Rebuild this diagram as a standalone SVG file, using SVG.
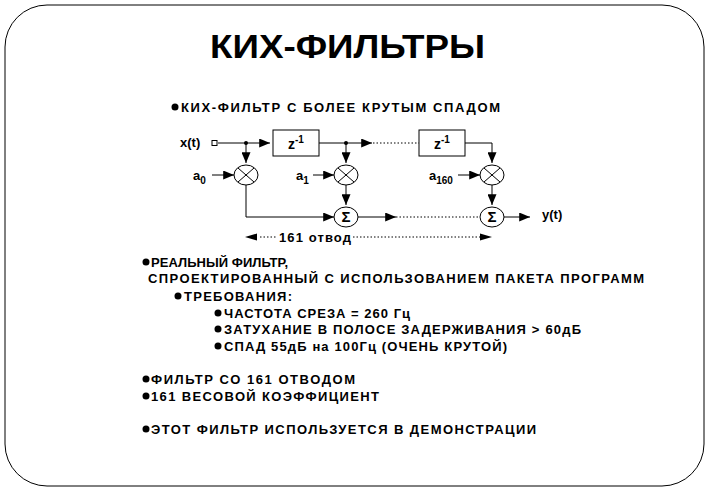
<svg xmlns="http://www.w3.org/2000/svg" width="710" height="491" viewBox="0 0 710 491">
<defs>
<style>
text{font-family:"Liberation Sans",Arial,sans-serif;font-weight:bold;fill:#000}
.t{font-size:13px}
.l{stroke:#000;stroke-width:1;fill:none}
.d{stroke:#000;stroke-width:1;fill:none;stroke-dasharray:1.5 2}
.n{fill:#fff;stroke:#000;stroke-width:1}
</style>
<marker id="a" viewBox="0 0 12 10" refX="12" refY="5" markerWidth="12" markerHeight="9" markerUnits="userSpaceOnUse" orient="auto"><path d="M0,0L12,5L0,10z"/></marker>
</defs>
<rect x="0" y="0" width="710" height="491" fill="#fff"/>
<rect x="5" y="5" width="699" height="481" rx="42" fill="#fff" stroke="#000" stroke-width="1"/>
<text x="210" y="58" font-size="34" textLength="275" lengthAdjust="spacingAndGlyphs">КИХ-ФИЛЬТРЫ</text>
<g id="connectors">
<path class="l" d="M218,143H270" marker-end="url(#a)"/>
<path class="l" d="M319,143H372" marker-end="url(#a)"/>
<path class="d" d="M373,143H419"/>
<path class="l" d="M465,143H492V163" marker-end="url(#a)"/>
<path class="l" d="M246,143V163" marker-end="url(#a)"/>
<path class="l" d="M346,143V163" marker-end="url(#a)"/>
<path class="l" d="M212,175H234" marker-end="url(#a)"/>
<path class="l" d="M313,175H334" marker-end="url(#a)"/>
<path class="l" d="M458,175H480" marker-end="url(#a)"/>
<path class="l" d="M246,185V217H334" marker-end="url(#a)"/>
<path class="l" d="M346,185V205" marker-end="url(#a)"/>
<path class="l" d="M492,185V205" marker-end="url(#a)"/>
<path class="l" d="M358,217H396" marker-end="url(#a)"/>
<path class="d" d="M396,217H480"/>
<path class="l" d="M504,217H530" marker-end="url(#a)"/>
<path class="d" d="M260,237H276M353,237H480"/>
<path d="M245,237l12,-3.5v7z"/>
<path d="M492,237l-12,-3.5v7z"/>
<circle cx="246" cy="143" r="2"/>
<circle cx="346" cy="143" r="2"/>
</g>
<g id="x"><rect x="212" y="140.5" width="5" height="5" class="n"/><text x="180" y="147" class="t">x(t)</text></g>
<g id="z1"><rect x="273" y="130" width="46" height="26" class="n"/><text x="288" y="149" font-size="14">z<tspan font-size="10" dy="-6">-1</tspan></text></g>
<g id="z2"><rect x="419" y="130" width="46" height="26" class="n"/><text x="434" y="149" font-size="14">z<tspan font-size="10" dy="-6">-1</tspan></text></g>
<g id="m0"><ellipse cx="246" cy="175" rx="12" ry="10" class="n"/><path class="l" d="M238,168l16,14M254,168l-16,14"/><text x="193" y="180" class="t">a<tspan font-size="10" dy="4">0</tspan></text></g>
<g id="m1"><ellipse cx="346" cy="175" rx="12" ry="10" class="n"/><path class="l" d="M338,168l16,14M354,168l-16,14"/><text x="296" y="180" class="t">a<tspan font-size="10" dy="4">1</tspan></text></g>
<g id="m2"><ellipse cx="492" cy="175" rx="12" ry="10" class="n"/><path class="l" d="M484,168l16,14M500,168l-16,14"/><text x="429" y="180" class="t">a<tspan font-size="10" dy="4">160</tspan></text></g>
<g id="s1"><ellipse cx="346" cy="217" rx="12" ry="10" class="n"/><text x="346" y="222" font-size="15" text-anchor="middle" font-family="Liberation Serif,serif">Σ</text></g>
<g id="s2"><ellipse cx="492" cy="217" rx="12" ry="10" class="n"/><text x="492" y="222" font-size="15" text-anchor="middle" font-family="Liberation Serif,serif">Σ</text></g>
<text x="542" y="219" class="t">y(t)</text>
<text x="279" y="242" class="t" textLength="72">161 отвод</text>
<g>
<circle cx="175" cy="107" r="3.5"/><text x="181" y="112" class="t" textLength="319">КИХ-ФИЛЬТР С БОЛЕЕ  КРУТЫМ СПАДОМ</text>
<circle cx="146" cy="262" r="3.5"/><text x="151" y="267" class="t" textLength="137">РЕАЛЬНЫЙ ФИЛЬТР,</text>
<text x="148" y="283" class="t" textLength="496">СПРОЕКТИРОВАННЫЙ  С  ИСПОЛЬЗОВАНИЕМ ПАКЕТА  ПРОГРАММ</text>
<circle cx="178" cy="296" r="3.5"/><text x="184" y="301" class="t" textLength="108">ТРЕБОВАНИЯ:</text>
<circle cx="218" cy="313" r="3.5"/><text x="224" y="318" class="t" textLength="186">ЧАСТОТА  СРЕЗА = 260 Гц</text>
<circle cx="218" cy="329" r="3.5"/><text x="224" y="334" class="t" textLength="357">ЗАТУХАНИЕ  В  ПОЛОСЕ ЗАДЕРЖИВАНИЯ  &gt; 60дБ</text>
<circle cx="218" cy="346" r="3.5"/><text x="224" y="351" class="t" textLength="283">СПАД  55дБ на 100Гц  (ОЧЕНЬ  КРУТОЙ)</text>
<circle cx="146" cy="379" r="3.5"/><text x="151" y="384" class="t" textLength="204">ФИЛЬТР  СО  161  ОТВОДОМ</text>
<circle cx="146" cy="396" r="3.5"/><text x="151" y="401" class="t" textLength="228">161  ВЕСОВОЙ  КОЭФФИЦИЕНТ</text>
<circle cx="146" cy="429" r="3.5"/><text x="151" y="434" class="t" textLength="385">ЭТОТ  ФИЛЬТР  ИСПОЛЬЗУЕТСЯ  В  ДЕМОНСТРАЦИИ</text>
</g>
</svg>
